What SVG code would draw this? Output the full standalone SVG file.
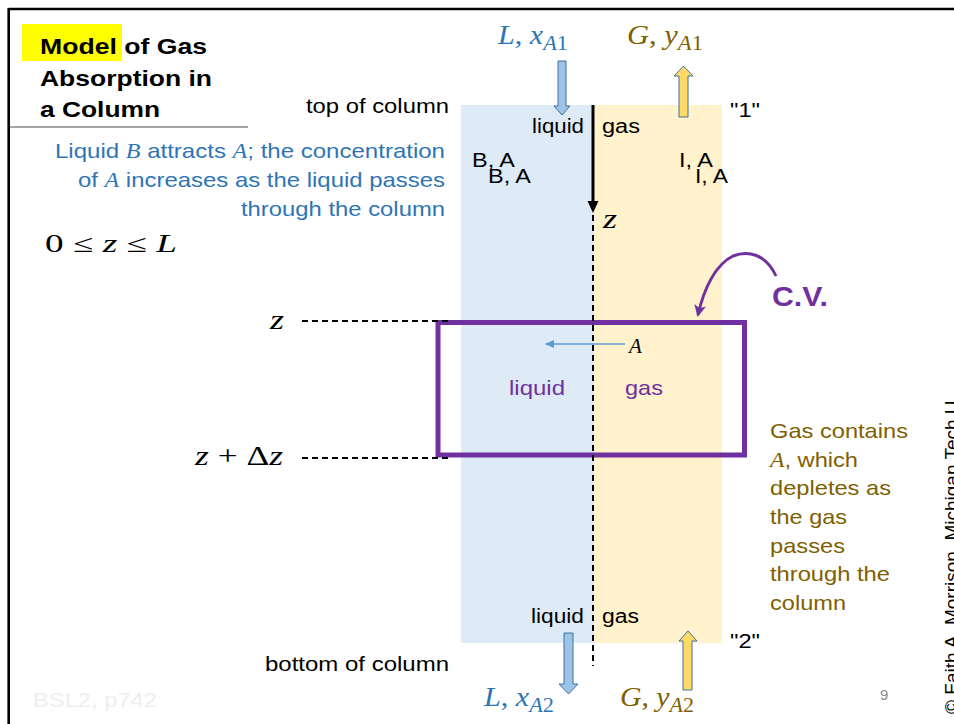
<svg xmlns="http://www.w3.org/2000/svg" width="954" height="724" viewBox="0 0 954 724">
<defs>
<style>
.sans{font-family:"Liberation Sans",Arial,sans-serif;}
.math{font-family:"Liberation Serif","DejaVu Serif",serif;}
.it{font-style:italic;}
.blk{fill:#000;}
.blue{fill:#2e75b6;}
.olive{fill:#7f6000;}
.purple{fill:#7030a0;}
.dash{stroke:#000;stroke-width:1.8;stroke-dasharray:6 4;fill:none;}
.barrow-b{fill:#9dc3e6;stroke:#41719c;stroke-width:1;}
.barrow-y{fill:#ffd966;stroke:#41719c;stroke-width:1;}
</style>
<marker id="mk-blue" markerWidth="9" markerHeight="8" refX="8" refY="4" orient="auto" markerUnits="userSpaceOnUse">
<path d="M0,0 L9,4 L0,8 Z" fill="#5b9bd5"/>
</marker>
<marker id="mk-purple" markerWidth="12" markerHeight="12" refX="10" refY="6" orient="auto" markerUnits="userSpaceOnUse">
<path d="M0,0 L12,6 L0,12 L3,6 Z" fill="#7030a0"/>
</marker>
</defs>
<rect x="0" y="0" width="954" height="724" fill="#fff"/>

<!-- frame -->
<g id="frame">
<line x1="8.7" y1="9" x2="954" y2="9" stroke="#000" stroke-width="2.6"/>
<line x1="8.7" y1="8" x2="8.7" y2="724" stroke="#000" stroke-width="2.6"/>
</g>

<!-- title -->
<g id="title">
<rect x="22" y="24" width="100" height="37" fill="#ffff00"/>
<text class="sans blk" x="40" y="54" font-size="22" font-weight="bold" textLength="167" lengthAdjust="spacingAndGlyphs">Model of Gas</text>
<text class="sans blk" x="40" y="86" font-size="22" font-weight="bold" textLength="172" lengthAdjust="spacingAndGlyphs">Absorption in</text>
<text class="sans blk" x="40" y="117" font-size="22" font-weight="bold" textLength="120" lengthAdjust="spacingAndGlyphs">a Column</text>
<line x1="10" y1="127" x2="248" y2="127" stroke="#a6a6a6" stroke-width="2"/>
</g>

<!-- columns -->
<g id="liquid-column">
<rect x="461" y="105" width="132" height="538" fill="#deebf7"/>
</g>
<g id="gas-column">
<rect x="593" y="105" width="129" height="538" fill="#fff2cc"/>
</g>

<!-- left description -->
<g id="liquid-note">
<text class="sans blue" x="55" y="158" font-size="21" textLength="390" lengthAdjust="spacingAndGlyphs">Liquid <tspan class="math it">B</tspan> attracts <tspan class="math it">A</tspan>; the concentration</text>
<text class="sans blue" x="78" y="187" font-size="21" textLength="367" lengthAdjust="spacingAndGlyphs">of <tspan class="math it">A</tspan> increases as the liquid passes</text>
<text class="sans blue" x="241" y="216" font-size="21" textLength="204" lengthAdjust="spacingAndGlyphs">through the column</text>
</g>
<g id="range">
<text class="math blk" x="45" y="252" font-size="25" textLength="132" lengthAdjust="spacingAndGlyphs">0 ≤ <tspan class="it">z</tspan> ≤ <tspan class="it">L</tspan></text>
</g>

<!-- column labels -->
<g id="column-labels">
<text class="sans blk" x="306" y="113" font-size="20" textLength="143" lengthAdjust="spacingAndGlyphs">top of column</text>
<text class="sans blk" x="265" y="671" font-size="20" textLength="184" lengthAdjust="spacingAndGlyphs">bottom of column</text>
<text class="sans blk" x="730" y="117" font-size="20" textLength="30" lengthAdjust="spacingAndGlyphs">"1"</text>
<text class="sans blk" x="730" y="648" font-size="20" textLength="30" lengthAdjust="spacingAndGlyphs">"2"</text>
<text class="sans blk" x="532" y="133" font-size="20" textLength="52" lengthAdjust="spacingAndGlyphs">liquid</text>
<text class="sans blk" x="602" y="133" font-size="20" textLength="38" lengthAdjust="spacingAndGlyphs">gas</text>
<text class="sans blk" x="531" y="623" font-size="20" textLength="53" lengthAdjust="spacingAndGlyphs">liquid</text>
<text class="sans blk" x="602" y="623" font-size="20" textLength="37" lengthAdjust="spacingAndGlyphs">gas</text>
<text class="sans blk" x="472" y="167" font-size="21" textLength="43" lengthAdjust="spacingAndGlyphs">B, A</text>
<text class="sans blk" x="488" y="183" font-size="21" textLength="43" lengthAdjust="spacingAndGlyphs">B, A</text>
<text class="sans blk" x="679" y="167" font-size="21" textLength="34" lengthAdjust="spacingAndGlyphs">I, A</text>
<text class="sans blk" x="695" y="183" font-size="21" textLength="33" lengthAdjust="spacingAndGlyphs">I, A</text>
</g>

<!-- stream labels -->
<g id="stream-labels">
<text class="math blue" x="498" y="44" font-size="27" textLength="70" lengthAdjust="spacingAndGlyphs"><tspan class="it">L</tspan>, <tspan class="it">x</tspan><tspan font-size="20" dy="6"><tspan class="it">A</tspan>1</tspan></text>
<text class="math olive" x="627" y="44" font-size="27" textLength="76" lengthAdjust="spacingAndGlyphs"><tspan class="it">G</tspan>, <tspan class="it">y</tspan><tspan font-size="20" dy="6"><tspan class="it">A</tspan>1</tspan></text>
<text class="math blue" x="484" y="706" font-size="27" textLength="70" lengthAdjust="spacingAndGlyphs"><tspan class="it">L</tspan>, <tspan class="it">x</tspan><tspan font-size="20" dy="6"><tspan class="it">A</tspan>2</tspan></text>
<text class="math olive" x="620" y="706" font-size="27" textLength="74" lengthAdjust="spacingAndGlyphs"><tspan class="it">G</tspan>, <tspan class="it">y</tspan><tspan font-size="20" dy="6"><tspan class="it">A</tspan>2</tspan></text>
</g>

<!-- z axis labels -->
<g id="z-labels">
<text class="math blk it" x="603" y="228" font-size="28" textLength="14" lengthAdjust="spacingAndGlyphs">z</text>
<text class="math blk it" x="270" y="329" font-size="27" textLength="14" lengthAdjust="spacingAndGlyphs">z</text>
<text class="math blk" x="195" y="465" font-size="27" textLength="88" lengthAdjust="spacingAndGlyphs"><tspan class="it">z</tspan> + Δ<tspan class="it">z</tspan></text>
</g>

<!-- control volume -->
<g id="control-volume">
<rect x="438" y="322.5" width="306.5" height="132.5" fill="none" stroke="#7030a0" stroke-width="5"/>
<text class="sans purple" x="509" y="395" font-size="21" textLength="56" lengthAdjust="spacingAndGlyphs">liquid</text>
<text class="sans purple" x="625" y="395" font-size="21" textLength="38" lengthAdjust="spacingAndGlyphs">gas</text>
<text class="math blk it" x="629" y="353" font-size="21">A</text>
</g>
<g id="cv-label">
<text class="sans purple" x="772" y="306" font-size="28" font-weight="bold" textLength="56" lengthAdjust="spacingAndGlyphs">C.V.</text>
</g>

<!-- gas note -->
<g id="gas-note">
<text class="sans olive" x="770" y="438" font-size="21" textLength="138" lengthAdjust="spacingAndGlyphs">Gas contains</text>
<text class="sans olive" x="770" y="467" font-size="21" textLength="88" lengthAdjust="spacingAndGlyphs"><tspan class="math it">A</tspan>, which</text>
<text class="sans olive" x="770" y="495" font-size="21" textLength="121" lengthAdjust="spacingAndGlyphs">depletes as</text>
<text class="sans olive" x="770" y="524" font-size="21" textLength="77" lengthAdjust="spacingAndGlyphs">the gas</text>
<text class="sans olive" x="770" y="553" font-size="21" textLength="75" lengthAdjust="spacingAndGlyphs">passes</text>
<text class="sans olive" x="770" y="581" font-size="21" textLength="120" lengthAdjust="spacingAndGlyphs">through the</text>
<text class="sans olive" x="770" y="610" font-size="21" textLength="76" lengthAdjust="spacingAndGlyphs">column</text>
</g>

<!-- footer -->
<g id="footer">
<text class="sans" x="33" y="707" font-size="21" fill="#eeeeee" textLength="124" lengthAdjust="spacingAndGlyphs">BSL2, p742</text>
<text class="sans" x="880" y="700" font-size="15" fill="#8c8c8c">9</text>
<text class="sans blk" font-size="19" transform="translate(958,714) rotate(-90)">© Faith A. Morrison, Michigan Tech U.</text>
</g>

<!-- connectors -->
<g id="connectors">
<line class="dash" x1="302" y1="321" x2="450" y2="321"/>
<line class="dash" x1="302" y1="458" x2="450" y2="458"/>
<line x1="593" y1="105" x2="593" y2="203" stroke="#000" stroke-width="3"/>
<polygon points="587.5,201 598.5,201 593,213" fill="#000"/>
<line x1="593" y1="215" x2="593" y2="666" stroke="#000" stroke-width="2" stroke-dasharray="6 4"/>
<line x1="625" y1="344" x2="546" y2="344" stroke="#5b9bd5" stroke-width="1.3" marker-end="url(#mk-blue)"/>
<path d="M776,276 C766,254 748,250 733,256 C716,264 704,288 698,315" fill="none" stroke="#7030a0" stroke-width="3" marker-end="url(#mk-purple)"/>
<polygon class="barrow-b" points="558,61 566,61 566,106 570,106 562,115 554,106 558,106"/>
<polygon class="barrow-y" points="683.5,66 693,76 688,76 688,117 679,117 679,76 674,76"/>
<polygon class="barrow-b" points="564,633 573,633 573,684 578,684 568.5,694 559,684 564,684"/>
<polygon class="barrow-y" points="688,631 697,641 692,641 692,690 683,690 683,641 679,641"/>
</g>
</svg>
